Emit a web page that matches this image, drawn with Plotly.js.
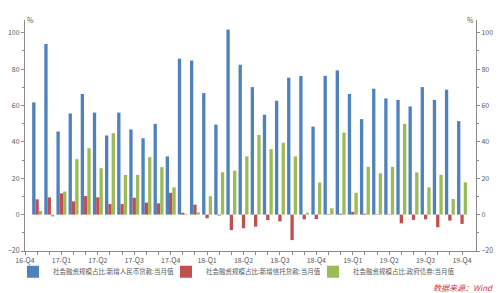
<!DOCTYPE html>
<html>
<head>
<meta charset="utf-8">
<script src="https://cdn.plot.ly/plotly-3.0.1.min.js"></script>
<style>html,body{margin:0;padding:0;background:#fff;}#chart{width:500px;height:293px;}</style>
</head>
<body>
<div id="chart"></div>
<script>
// Axis categories (month before first data month is the 16-Q4 tick)
const axisMonths = ['2016-12','2017-01','2017-02','2017-03','2017-04','2017-05','2017-06','2017-07','2017-08','2017-09','2017-10','2017-11','2017-12',
  '2018-01','2018-02','2018-03','2018-04','2018-05','2018-06','2018-07','2018-08','2018-09','2018-10','2018-11','2018-12',
  '2019-01','2019-02','2019-03','2019-04','2019-05','2019-06','2019-07','2019-08','2019-09','2019-10','2019-11','2019-12'];
const months = ['2017-01','2017-02','2017-03','2017-04','2017-05','2017-06','2017-07','2017-08','2017-09','2017-10','2017-11','2017-12',
  '2018-01','2018-02','2018-03','2018-04','2018-05','2018-06','2018-07','2018-08','2018-09','2018-10','2018-11','2018-12',
  '2019-01','2019-02','2019-03','2019-04','2019-05','2019-06','2019-07','2019-08','2019-09','2019-10','2019-11','2019-12'];
const quarterTicks = ['2016-12','2017-03','2017-06','2017-09','2017-12','2018-03','2018-06','2018-09','2018-12','2019-03','2019-06','2019-09','2019-12'];
const quarterLabels = ['16-Q4','17-Q1','17-Q2','17-Q3','17-Q4','18-Q1','18-Q2','18-Q3','18-Q4','19-Q1','19-Q2','19-Q3','19-Q4'];

const seriesNames = ['社会融资规模占比:新增人民币贷款:当月值','社会融资规模占比:新增信托贷款:当月值','社会融资规模占比:政府债券:当月值'];
const rmbLoans = [61.7, 93.8, 45.7, 55.6, 66.3, 56.1, 43.5, 56.1, 46.8, 42.0, 49.9, 32.0,
  85.7, 84.8, 66.8, 49.5, 101.7, 82.4, 70.1, 54.9, 62.6, 75.3, 76.2, 48.4,
  76.3, 79.3, 66.3, 52.5, 69.2, 63.9, 63.0, 59.5, 70.1, 63.1, 68.7, 51.4];
const trustLoans = [8.4, 9.5, 11.7, 7.3, 10.2, 9.5, 5.8, 5.8, 9.3, 6.6, 6.2, 12.0,
  1.0, 5.5, -2.0, -0.5, -8.5, -7.5, -6.6, -3.0, -3.7, -14.0, -2.6, -2.4,
  0.3, 0.5, 1.5, 0.5, 0.2, 0.2, -4.8, -2.9, -2.6, -6.9, -3.3, -5.1];
const govBonds = [2.0, -1.0, 12.7, 30.5, 36.5, 25.5, 44.8, 21.8, 21.8, 31.6, 26.1, 15.0,
  0.3, 1.2, 10.1, 23.3, 24.2, 32.0, 43.8, 36.0, 39.5, 32.0, 1.0, 17.6,
  3.5, 45.1, 12.0, 26.3, 22.7, 26.3, 49.9, 23.2, 15.0, 21.9, 8.6, 17.8];
const colors = ['#4F81BD', '#C0504D', '#9BBB59'];

const tickText = axisMonths.map(m => { const i = quarterTicks.indexOf(m); return i >= 0 ? quarterLabels[i] : ''; });

const FONT = '"Noto Sans CJK SC", "Noto Sans", sans-serif';
const legendIds = ['legend', 'legend2', 'legend3'];
const traces = [rmbLoans, trustLoans, govBonds].map((vals, k) => ({
  type: 'bar', x: months, y: vals, name: seriesNames[k], legend: legendIds[k],
  marker: {color: colors[k], line: {width: 0}}, hoverinfo: 'skip'
}));
traces.push({type: 'scatter', mode: 'markers', x: months, y: rmbLoans, yaxis: 'y2',
  marker: {opacity: 0}, showlegend: false, hoverinfo: 'skip'});

const yCommon = {
  range: [-20, 107], dtick: 20, tick0: 0, ticks: 'outside', ticklen: 3, tickcolor: '#8c8c8c',
  showline: true, linecolor: '#8c8c8c', linewidth: 1, showgrid: false, zeroline: false,
  tickfont: {family: FONT, size: 7, color: '#595959'},
  minor: {dtick: 10, ticks: 'outside', ticklen: 2, tickcolor: '#8c8c8c', showgrid: false}
};

function legendAt(x) {
  return {orientation: 'h', x: x, xanchor: 'left', y: -0.09, yanchor: 'middle',
    font: {family: FONT, size: 6.5, color: '#595959'}, itemwidth: 30,
    bgcolor: 'rgba(0,0,0,0)', borderwidth: 0};
}

const layout = {
  width: 500, height: 293,
  margin: {l: 25, r: 24, t: 20, b: 42, autoexpand: false},
  paper_bgcolor: '#fff', plot_bgcolor: '#fff',
  font: {family: FONT, size: 7, color: '#595959'},
  barmode: 'group', bargap: 0.18, bargroupgap: 0,
  xaxis: {
    type: 'category', categoryorder: 'array', categoryarray: axisMonths,
    range: [0, 37.15], tickmode: 'array', tickvals: axisMonths, ticktext: tickText,
    ticks: 'outside', ticklen: 3, tickcolor: '#8c8c8c', tickangle: 0,
    showline: true, linecolor: '#8c8c8c', linewidth: 1, showgrid: false, zeroline: false,
    automargin: false,
    tickfont: {family: FONT, size: 7, color: '#595959'}
  },
  yaxis: Object.assign({side: 'left', automargin: false}, yCommon),
  yaxis2: Object.assign({side: 'right', overlaying: 'y', anchor: 'x', automargin: false}, yCommon),
  showlegend: true,
  legend: legendAt(-0.0266),
  legend2: legendAt(0.3127),
  legend3: legendAt(0.6386),
  annotations: [
    {text: '%', xref: 'paper', yref: 'paper', x: 0, y: 1, xanchor: 'left', yanchor: 'middle', showarrow: false,
     font: {family: FONT, size: 7, color: '#595959'}},
    {text: '%', xref: 'paper', yref: 'paper', x: 1, y: 1, xanchor: 'right', yanchor: 'middle', showarrow: false,
     font: {family: FONT, size: 7, color: '#595959'}},
    {text: '<i>数据来源：Wind</i>', xref: 'paper', yref: 'paper', x: 1.042, y: -0.156, xanchor: 'right', yanchor: 'middle', showarrow: false,
     font: {family: FONT, size: 8, color: '#D0393A'}}
  ]
};

Plotly.newPlot('chart', traces, layout, {staticPlot: true, displayModeBar: false});
</script>
</body>
</html>
